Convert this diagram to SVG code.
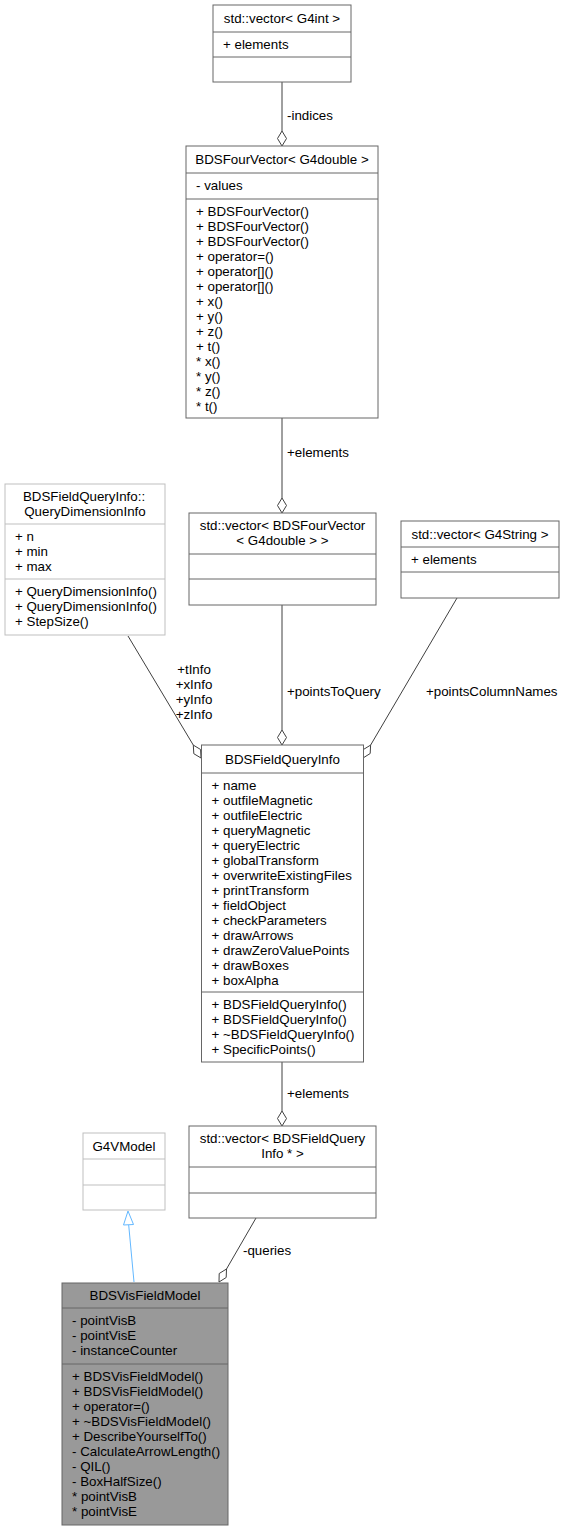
<svg xmlns="http://www.w3.org/2000/svg" width="565" height="1531" viewBox="0 0 565 1531">
<style>
text{font-family:"Liberation Sans",Arial,Helvetica,sans-serif;font-size:13.33px;fill:#000}
.c{text-anchor:middle}
.box{fill:#fff;stroke:#666666;stroke-width:1}
.gbox{fill:#fff;stroke:#bfbfbf;stroke-width:1}
.main{fill:#999999;stroke:#666666;stroke-width:1}
.sep{stroke:#666666;stroke-width:1}
.gsep{stroke:#bfbfbf;stroke-width:1}
.edge{fill:none;stroke:#404040;stroke-width:1}
.dia{fill:#fff;stroke:#404040;stroke-width:1}
.inh{fill:none;stroke:#63b8ff;stroke-width:1}
.tri{fill:#fff;stroke:#63b8ff;stroke-width:1}
</style>
<rect width="565" height="1531" fill="#fff"/>
<g id="connectors">
<line class="edge" x1="282" y1="82" x2="282" y2="131"/>
<polygon class="dia" points="282,146 286.5,138.5 282,131 277.5,138.5"/>
<text x="287" y="120">-indices</text>
<line class="edge" x1="282" y1="418" x2="282" y2="498"/>
<polygon class="dia" points="282,513 286.5,505.5 282,498 277.5,505.5"/>
<text x="287" y="456.5">+elements</text>
<line class="edge" x1="282" y1="605" x2="282" y2="730"/>
<polygon class="dia" points="282,745 286.5,737.5 282,730 277.5,737.5"/>
<text x="287" y="695.5">+pointsToQuery</text>
<line class="edge" x1="128" y1="636" x2="193.3" y2="745.1"/>
<polygon class="dia" points="201,758 200.6,749.5 193.3,745.1 193.8,753.7"/>
<text class="c" x="194" y="673.5">+tInfo</text>
<text class="c" x="194" y="688.5">+xInfo</text>
<text class="c" x="194" y="703.5">+yInfo</text>
<text class="c" x="194" y="718.5">+zInfo</text>
<line class="edge" x1="457" y1="598" x2="370.6" y2="745.1"/>
<polygon class="dia" points="363,758 370.2,753.5 370.6,745.1 363.4,749.5"/>
<text x="426" y="696">+pointsColumnNames</text>
<line class="edge" x1="282" y1="1062" x2="282" y2="1111"/>
<polygon class="dia" points="282,1126 286.5,1118.5 282,1111 277.5,1118.5"/>
<text x="287" y="1098">+elements</text>
<line class="edge" x1="256" y1="1218" x2="226.5" y2="1269"/>
<polygon class="dia" points="219,1282 226.2,1277.5 226.5,1269 219.2,1273.5"/>
<text x="243" y="1255">-queries</text>
<line class="inh" x1="134" y1="1282" x2="128.7" y2="1225"/>
<polygon class="tri" points="128,1211 123.5,1225 133.5,1224.5"/>
</g>
<g id="node_vector_G4int">
<rect class="box" x="213" y="5" width="138" height="77"/>
<line class="sep" x1="213" y1="32" x2="351" y2="32"/>
<line class="sep" x1="213" y1="57" x2="351" y2="57"/>
<text class="c" x="282" y="23">std::vector&lt; G4int &gt;</text>
<text x="223" y="49">+ elements</text>
</g>
<g id="node_BDSFourVector">
<rect class="box" x="186" y="146" width="192" height="272"/>
<line class="sep" x1="186" y1="173" x2="378" y2="173"/>
<line class="sep" x1="186" y1="199" x2="378" y2="199"/>
<text class="c" x="282" y="164">BDSFourVector&lt; G4double &gt;</text>
<text x="196" y="189.5">- values</text>
<text x="196" y="215.5">+ BDSFourVector()</text>
<text x="196" y="230.5">+ BDSFourVector()</text>
<text x="196" y="245.5">+ BDSFourVector()</text>
<text x="196" y="260.5">+ operator=()</text>
<text x="196" y="275.5">+ operator[]()</text>
<text x="196" y="290.5">+ operator[]()</text>
<text x="196" y="305.5">+ x()</text>
<text x="196" y="320.5">+ y()</text>
<text x="196" y="335.5">+ z()</text>
<text x="196" y="350.5">+ t()</text>
<text x="196" y="365.5">* x()</text>
<text x="196" y="380.5">* y()</text>
<text x="196" y="395.5">* z()</text>
<text x="196" y="410.5">* t()</text>
</g>
<g id="node_QueryDimensionInfo">
<rect class="gbox" x="5" y="484" width="160" height="151"/>
<line class="gsep" x1="5" y1="524" x2="165" y2="524"/>
<line class="gsep" x1="5" y1="579" x2="165" y2="579"/>
<text class="c" x="84" y="500.5">BDSFieldQueryInfo::</text>
<text class="c" x="85" y="515.5">QueryDimensionInfo</text>
<text x="15" y="540.5">+ n</text>
<text x="15" y="555.5">+ min</text>
<text x="15" y="570.5">+ max</text>
<text x="15" y="595.5">+ QueryDimensionInfo()</text>
<text x="15" y="610.5">+ QueryDimensionInfo()</text>
<text x="15" y="625.5">+ StepSize()</text>
</g>
<g id="node_vector_BDSFourVector">
<rect class="box" x="189" y="513" width="187" height="92"/>
<line class="sep" x1="189" y1="554" x2="376" y2="554"/>
<line class="sep" x1="189" y1="579" x2="376" y2="579"/>
<text class="c" x="282.5" y="530">std::vector&lt; BDSFourVector</text>
<text class="c" x="282.5" y="545">&lt; G4double &gt; &gt;</text>
</g>
<g id="node_vector_G4String">
<rect class="box" x="401" y="521" width="158" height="77"/>
<line class="sep" x1="401" y1="547" x2="559" y2="547"/>
<line class="sep" x1="401" y1="572" x2="559" y2="572"/>
<text class="c" x="480" y="538.5">std::vector&lt; G4String &gt;</text>
<text x="411" y="564">+ elements</text>
</g>
<g id="node_BDSFieldQueryInfo">
<rect class="box" x="201.5" y="745" width="162" height="317"/>
<line class="sep" x1="201.5" y1="773" x2="363.5" y2="773"/>
<line class="sep" x1="201.5" y1="992" x2="363.5" y2="992"/>
<text class="c" x="282.5" y="763.5">BDSFieldQueryInfo</text>
<text x="211.5" y="789.5">+ name</text>
<text x="211.5" y="804.5">+ outfileMagnetic</text>
<text x="211.5" y="819.5">+ outfileElectric</text>
<text x="211.5" y="834.5">+ queryMagnetic</text>
<text x="211.5" y="849.5">+ queryElectric</text>
<text x="211.5" y="864.5">+ globalTransform</text>
<text x="211.5" y="879.5">+ overwriteExistingFiles</text>
<text x="211.5" y="894.5">+ printTransform</text>
<text x="211.5" y="909.5">+ fieldObject</text>
<text x="211.5" y="924.5">+ checkParameters</text>
<text x="211.5" y="939.5">+ drawArrows</text>
<text x="211.5" y="954.5">+ drawZeroValuePoints</text>
<text x="211.5" y="969.5">+ drawBoxes</text>
<text x="211.5" y="984.5">+ boxAlpha</text>
<text x="211.5" y="1009">+ BDSFieldQueryInfo()</text>
<text x="211.5" y="1024">+ BDSFieldQueryInfo()</text>
<text x="211.5" y="1039">+ ~BDSFieldQueryInfo()</text>
<text x="211.5" y="1054">+ SpecificPoints()</text>
</g>
<g id="node_G4VModel">
<rect class="gbox" x="83" y="1133" width="82" height="77"/>
<line class="gsep" x1="83" y1="1159" x2="165" y2="1159"/>
<line class="gsep" x1="83" y1="1185" x2="165" y2="1185"/>
<text class="c" x="124" y="1151">G4VModel</text>
</g>
<g id="node_vector_BDSFieldQueryInfo">
<rect class="box" x="189" y="1126" width="187" height="92"/>
<line class="sep" x1="189" y1="1167" x2="376" y2="1167"/>
<line class="sep" x1="189" y1="1193" x2="376" y2="1193"/>
<text class="c" x="282.5" y="1143">std::vector&lt; BDSFieldQuery</text>
<text class="c" x="282.5" y="1158">Info * &gt;</text>
</g>
<g id="node_BDSVisFieldModel">
<rect class="main" x="62" y="1283" width="166" height="242"/>
<line class="sep" x1="62" y1="1308" x2="228" y2="1308"/>
<line class="sep" x1="62" y1="1364" x2="228" y2="1364"/>
<text class="c" x="145" y="1300">BDSVisFieldModel</text>
<text x="72" y="1324.5">- pointVisB</text>
<text x="72" y="1339.5">- pointVisE</text>
<text x="72" y="1354.5">- instanceCounter</text>
<text x="72" y="1380.5">+ BDSVisFieldModel()</text>
<text x="72" y="1395.5">+ BDSVisFieldModel()</text>
<text x="72" y="1410.5">+ operator=()</text>
<text x="72" y="1425.5">+ ~BDSVisFieldModel()</text>
<text x="72" y="1440.5">+ DescribeYourselfTo()</text>
<text x="72" y="1455.5">- CalculateArrowLength()</text>
<text x="72" y="1470.5">- QIL()</text>
<text x="72" y="1485.5">- BoxHalfSize()</text>
<text x="72" y="1500.5">* pointVisB</text>
<text x="72" y="1515.5">* pointVisE</text>
</g>
</svg>
